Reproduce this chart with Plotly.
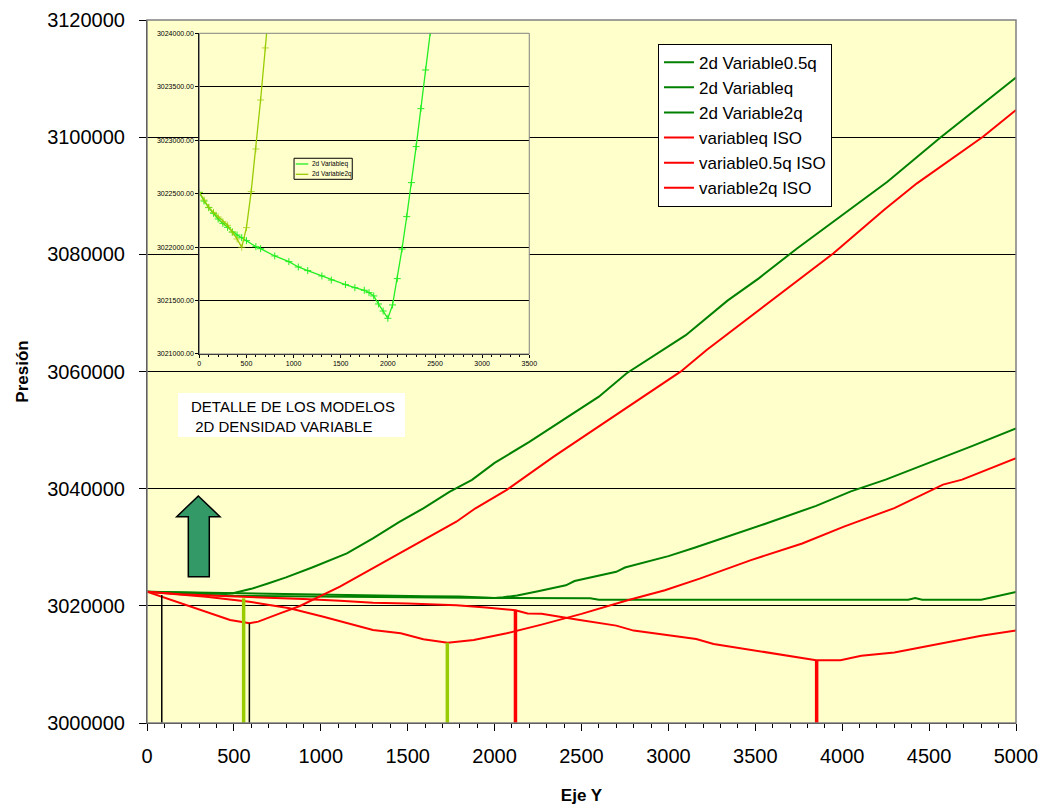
import plotly.graph_objects as go

# ---------------- Main chart data (x = Eje Y, y = Presión) ----------------
g05_x = [0, 100, 300, 500, 800, 1000, 1500, 2000, 2550, 2600, 4380, 4420, 4460, 4800, 5000]
g05_y = [3022420, 3022250, 3021900, 3021700, 3021600, 3021550, 3021450, 3021350, 3021310,
         3021050, 3021050, 3021350, 3021050, 3021050, 3022350]

gq_x = [0, 100, 200, 300, 400, 500, 600, 800, 1000, 1200, 1400, 1600, 1800, 1850, 1900, 1950,
        2000, 2050, 2130, 2250, 2410, 2460, 2700, 2750, 3000, 3150, 3400, 3550, 3850, 4050,
        4250, 4500, 4750, 5000]
gq_y = [3022420, 3022370, 3022260, 3022190, 3022110, 3022060, 3022000, 3021920, 3021840,
        3021770, 3021690, 3021630, 3021580, 3021540, 3021470, 3021400, 3021330, 3021460,
        3021780, 3022480, 3023500, 3024240, 3025800, 3026540, 3028480, 3029920, 3032380,
        3033930, 3037070, 3039540, 3041540, 3044400, 3047300, 3050300]

g2_x = [0, 100, 200, 300, 400, 450, 500, 550, 600, 700, 800, 950, 1150, 1300, 1450, 1590,
        1740, 1870, 2000, 2200, 2400, 2600, 2760, 2910, 3100, 3340, 3520, 3740, 3950, 4100,
        4260, 4560, 4760, 5000]
g2_y = [3022420, 3022380, 3022280, 3022200, 3022100, 3022000, 3022180, 3022520, 3022900,
        3023850, 3024850, 3026550, 3028950, 3031500, 3034300, 3036650, 3039450, 3041500,
        3044400, 3048000, 3051800, 3055700, 3059700, 3062500, 3066200, 3072100, 3075900,
        3081000, 3085600, 3089000, 3092400, 3099800, 3104600, 3110200]

rq_x = [0, 340, 590, 820, 1015, 1150, 1300, 1460, 1590, 1730, 1880, 2070, 2190, 2270, 2500,
        2760, 2980, 3180, 3475, 3770, 4010, 4300, 4580, 4690, 5000]
rq_y = [3022420, 3021560, 3020700, 3019570, 3018140, 3017010, 3015870, 3015310, 3014280,
        3013700, 3014160, 3015310, 3016160, 3016790, 3018630, 3020920, 3022650, 3024640,
        3027800, 3030650, 3033520, 3036680, 3040690, 3041540, 3045200]

r05_x = [0, 190, 400, 670, 900, 1110, 1300, 1500, 1780, 1950, 2120, 2190, 2270, 2490, 2700,
         2800, 3160, 3260, 3850, 3990, 4110, 4300, 4500, 4600, 4800, 5000]
r05_y = [3022420, 3021960, 3021700, 3021450, 3021150, 3020870, 3020530, 3020400, 3020100,
         3019700, 3019250, 3018680, 3018630, 3017600, 3016620, 3015770, 3014330, 3013480,
         3010730, 3010730, 3011460, 3012040, 3013180, 3013750, 3014910, 3015770]

r2_x = [0, 200, 305, 478, 590, 640, 765, 880, 1110, 1300, 1530, 1780, 1890, 2070, 2340, 2570,
        2800, 3070, 3220, 3410, 3760, 3950, 4240, 4430, 4810, 5000]
r2_y = [3022420, 3020430, 3019290, 3017580, 3017010, 3017300, 3018720, 3019970, 3023270,
        3026410, 3030100, 3034360, 3036650, 3039800, 3045470, 3050010, 3054570, 3059970,
        3063670, 3067940, 3075910, 3080180, 3087570, 3092120, 3100080, 3104640]

# vertical markers (position of minima)
vline_x = [85, 556, 589, 1728, 2120, 3853]
vline_top = [3021860, 3021280, 3017010, 3013700, 3019200, 3010730]
vline_base = 3000000

# ---------------- Inset data ----------------
ins_q_x = [0, 50, 100, 150, 200, 250, 300, 350, 400, 450, 500, 600, 650, 800, 950, 1050, 1150,
           1300, 1400, 1550, 1650, 1750, 1800, 1850, 1900, 1950, 2000, 2050, 2100, 2150, 2200,
           2250, 2300, 2350, 2400, 2450]
ins_q_y = [3022512, 3022431, 3022369, 3022316, 3022263, 3022222, 3022185, 3022141, 3022113,
           3022088, 3022060, 3022004, 3021985, 3021917, 3021864, 3021814, 3021780, 3021730,
           3021692, 3021649, 3021620, 3021596, 3021574, 3021543, 3021468, 3021402, 3021334,
           3021459, 3021705, 3021982, 3022285, 3022603, 3022940, 3023295, 3023657, 3024009]

ins_2q_x = [0, 50, 100, 150, 200, 250, 300, 350, 400, 450, 500, 550, 600, 650, 700, 714]
ins_2q_y = [3022512, 3022440, 3022372, 3022325, 3022282, 3022238, 3022204, 3022141, 3022076,
            3021998, 3022182, 3022519, 3022918, 3023376, 3023863, 3024000]

# ---------------- styles ----------------
GREEN = "#008000"
RED = "#FF0000"
LIME = "#99CC00"
BRIGHT = "#22EE22"
FONT = "Arial, Liberation Sans, sans-serif"

vline_style = [("black", 1.5), (LIME, 3.5), ("black", 1.5), (LIME, 3.5), (RED, 3.5), (RED, 3.5)]

fig = go.Figure()

series = [
    ("2d Variable0.5q", g05_x, g05_y, GREEN),
    ("2d Variableq", gq_x, gq_y, GREEN),
    ("2d Variable2q", g2_x, g2_y, GREEN),
    ("variableq ISO", rq_x, rq_y, RED),
    ("variable0.5q ISO", r05_x, r05_y, RED),
    ("variable2q ISO", r2_x, r2_y, RED),
]
for name, xs, ys, col in series:
    fig.add_trace(go.Scatter(x=xs, y=ys, mode="lines", name=name, legendgroup=name,
                             line=dict(color=col, width=2), xaxis="x", yaxis="y"))

for vx, vt, (col, w) in zip(vline_x, vline_top, vline_style):
    fig.add_trace(go.Scatter(x=[vx, vx], y=[vline_base, vt], mode="lines",
                             line=dict(color=col, width=w), showlegend=False,
                             hoverinfo="skip", xaxis="x", yaxis="y"))

# inset traces
fig.add_trace(go.Scatter(x=ins_q_x, y=ins_q_y, mode="lines+markers", name="2d Variableq",
                         line=dict(color=BRIGHT, width=1.3),
                         marker=dict(symbol="cross-thin", size=5, line=dict(color=BRIGHT, width=1)),
                         showlegend=False, xaxis="x2", yaxis="y2"))
fig.add_trace(go.Scatter(x=ins_2q_x, y=ins_2q_y, mode="lines+markers", name="2d Variable2q",
                         line=dict(color=LIME, width=1.3),
                         marker=dict(symbol="cross-thin", size=[5] * (len(ins_2q_x) - 1) + [0],
                                     line=dict(color=LIME, width=1)),
                         showlegend=False, xaxis="x2", yaxis="y2"))

# ---------------- decorations ----------------
shapes = []
# main plot border (top/right grey)
shapes.append(dict(type="rect", xref="x domain", yref="y domain", x0=0, x1=1, y0=0, y1=1,
                   line=dict(color="#808080", width=1.5), layer="above"))
# inset border
shapes.append(dict(type="rect", xref="x2 domain", yref="y2 domain", x0=0, x1=1, y0=0, y1=1,
                   line=dict(color="#808080", width=1), layer="above"))
# inset legend box + samples
shapes.append(dict(type="rect", xref="paper", yref="paper", x0=0.1692, x1=0.2362,
                   y0=0.7734, y1=0.8033, line=dict(color="black", width=1),
                   fillcolor="#FFFFCC", layer="above"))
shapes.append(dict(type="line", xref="paper", yref="paper", x0=0.1711, x1=0.1856,
                   y0=0.7952, y1=0.7952, line=dict(color=BRIGHT, width=1.3), layer="above"))
shapes.append(dict(type="line", xref="paper", yref="paper", x0=0.1711, x1=0.1856,
                   y0=0.7805, y1=0.7805, line=dict(color=LIME, width=1.3), layer="above"))
# text box
shapes.append(dict(type="rect", xref="paper", yref="paper", x0=0.0357, x1=0.2969,
                   y0=0.4068, y1=0.4694, line=dict(width=0), fillcolor="white", layer="above"))
# green arrow
pts = [(0.05903, 0.3229), (0.03418, 0.2935), (0.04753, 0.2935), (0.04753, 0.2081),
       (0.07169, 0.2081), (0.07169, 0.2935), (0.08400, 0.2935)]
path = "M " + " L ".join(f"{px},{py}" for px, py in pts) + " Z"
shapes.append(dict(type="path", xref="paper", yref="paper", path=path,
                   fillcolor="#339966", line=dict(color="black", width=1.5), layer="above"))

annotations = [
    dict(xref="paper", yref="paper", x=0.0483, y=0.4353, xanchor="left", yanchor="middle",
         align="left", showarrow=False,
         text="DETALLE DE LOS MODELOS<br>\u00a02D DENSIDAD VARIABLE",
         font=dict(family=FONT, size=15, color="black")),
    dict(xref="paper", yref="paper", x=0.1876, y=0.7952, xanchor="left", yanchor="middle",
         showarrow=False, text="2d Variableq", font=dict(family=FONT, size=6.5, color="black")),
    dict(xref="paper", yref="paper", x=0.1876, y=0.7805, xanchor="left", yanchor="middle",
         showarrow=False, text="2d Variable2q", font=dict(family=FONT, size=6.5, color="black")),
]

fig.update_layout(
    width=1044, height=809,
    margin=dict(l=147, r=28, t=20, b=86, pad=0, autoexpand=False),
    paper_bgcolor="white", plot_bgcolor="#FFFFCC",
    font=dict(family=FONT, color="black"),
    showlegend=True,
    legend=dict(x=0.588, y=0.9663, xanchor="left", yanchor="top", bgcolor="white",
                bordercolor="black", borderwidth=1, font=dict(family=FONT, size=17),
                tracegroupgap=1, traceorder="normal"),
    xaxis=dict(domain=[0, 1], range=[0, 5000], tick0=0, dtick=500, ticks="outside", ticklen=7,
               tickcolor="black", showline=True, linecolor="black", linewidth=1,
               showgrid=False, zeroline=False, tickfont=dict(size=20),
               ticklabelstandoff=8, automargin=False,
               minor=dict(dtick=100, ticks="outside", ticklen=4, tickcolor="black", showgrid=False),
               title=dict(text="Eje Y", font=dict(size=17, weight="bold"), standoff=23),
               anchor="y"),
    yaxis=dict(domain=[0, 1], range=[3000000, 3120000], tick0=3000000, dtick=20000,
               ticks="outside", ticklen=7, tickcolor="black", tickformat="d",
               showline=True, linecolor="black", linewidth=1,
               showgrid=True, gridcolor="black", gridwidth=1, zeroline=False,
               tickfont=dict(size=20), ticklabelstandoff=10, automargin=False,
               title=dict(text="Presión", font=dict(size=17, weight="bold"), standoff=14),
               anchor="x"),
    xaxis2=dict(domain=[0.0602, 0.4399], range=[0, 3500], tick0=0, dtick=500,
                ticks="outside", ticklen=3, tickcolor="black", showline=True,
                linecolor="black", linewidth=1, showgrid=False, zeroline=False,
                tickfont=dict(size=7), automargin=False,
                minor=dict(dtick=100, ticks="outside", ticklen=2, tickcolor="black", showgrid=False),
                anchor="y2"),
    yaxis2=dict(domain=[0.5249, 0.9811], range=[3021000, 3024000], tick0=3021000, dtick=500,
                ticks="outside", ticklen=3, tickcolor="black", tickformat=".2f",
                showline=True, linecolor="black", linewidth=1,
                showgrid=True, gridcolor="black", gridwidth=1, zeroline=False,
                tickfont=dict(size=7), anchor="x2", automargin=False),
    shapes=shapes,
    annotations=annotations,
)

fig.write_html("out.html")
